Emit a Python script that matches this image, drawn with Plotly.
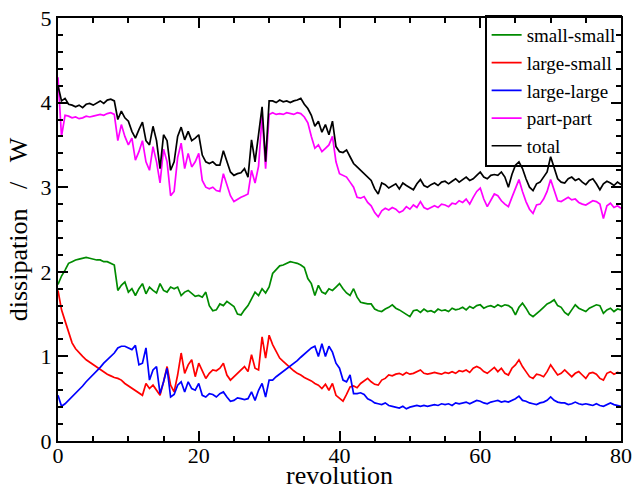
import numpy as np
import plotly.graph_objects as go

# revolution grid (step 0.5)
revolution = np.arange(0, 80.5, 0.5)

small_small = [
1.85,1.95,2.02,2.10,2.12,2.14,2.15,2.16,2.17,2.16,2.15,2.14,2.14,2.12,2.12,2.10,2.08,1.78,1.84,1.88,
1.76,1.80,1.72,1.80,1.86,1.74,1.82,1.78,1.75,1.86,1.78,1.76,1.82,1.80,1.82,1.72,1.76,1.78,1.74,1.71,
1.72,1.70,1.76,1.60,1.54,1.55,1.62,1.60,1.65,1.62,1.59,1.50,1.49,1.55,1.60,1.68,1.76,1.72,1.80,1.75,
1.82,1.98,2.02,2.07,2.08,2.10,2.12,2.11,2.10,2.08,2.05,1.92,1.86,1.72,1.84,1.76,1.74,1.80,1.78,1.82,
1.86,1.80,1.75,1.72,1.80,1.70,1.64,1.63,1.62,1.62,1.56,1.54,1.53,1.56,1.58,1.61,1.57,1.55,1.52,1.50,
1.47,1.54,1.55,1.52,1.56,1.53,1.54,1.52,1.56,1.54,1.55,1.53,1.57,1.55,1.56,1.58,1.55,1.59,1.57,1.60,
1.61,1.57,1.59,1.60,1.58,1.61,1.59,1.61,1.60,1.57,1.49,1.58,1.63,1.57,1.50,1.47,1.50,1.54,1.58,1.62,
1.64,1.67,1.60,1.58,1.52,1.49,1.55,1.61,1.57,1.55,1.53,1.57,1.59,1.61,1.60,1.51,1.55,1.57,1.53,1.56,
1.55]

large_small = [
1.78,1.55,1.42,1.28,1.16,1.09,1.04,1.00,0.96,0.93,0.90,0.87,0.84,0.81,0.79,0.77,0.75,0.74,0.72,0.68,
0.65,0.62,0.60,0.57,0.54,0.68,0.62,0.66,0.60,0.54,0.70,0.88,0.66,0.58,0.78,1.04,0.80,0.90,0.96,0.76,
0.92,0.82,0.74,0.80,0.84,0.83,0.86,0.92,0.78,0.72,0.76,0.80,0.84,0.88,0.82,1.02,0.86,0.84,1.23,0.98,
1.25,1.14,1.06,0.98,0.94,0.90,0.86,0.83,0.80,0.78,0.75,0.73,0.71,0.68,0.66,0.62,0.67,0.60,0.68,0.54,
0.50,0.47,0.55,0.64,0.65,0.63,0.68,0.71,0.74,0.70,0.67,0.66,0.72,0.74,0.78,0.77,0.79,0.80,0.78,0.81,
0.79,0.80,0.82,0.84,0.80,0.79,0.80,0.81,0.80,0.79,0.81,0.80,0.82,0.80,0.83,0.82,0.84,0.81,0.86,0.88,
0.86,0.82,0.80,0.84,0.87,0.82,0.86,0.80,0.78,0.86,0.90,0.96,0.88,0.82,0.76,0.74,0.79,0.78,0.76,0.82,
0.90,0.84,0.78,0.80,0.84,0.80,0.76,0.80,0.82,0.78,0.74,0.80,0.81,0.79,0.74,0.72,0.80,0.82,0.79,0.81,
0.80]

large_large = [
0.54,0.41,0.44,0.48,0.52,0.56,0.60,0.65,0.70,0.74,0.78,0.82,0.87,0.92,0.96,1.00,1.04,1.10,1.12,1.12,
1.10,1.08,1.13,0.90,0.92,1.10,0.72,0.84,0.88,0.56,0.70,0.86,0.52,0.55,0.66,0.70,0.58,0.70,0.62,0.60,
0.68,0.54,0.52,0.56,0.55,0.52,0.56,0.58,0.52,0.47,0.48,0.51,0.50,0.49,0.50,0.58,0.48,0.60,0.68,0.52,
0.72,0.72,0.76,0.79,0.82,0.85,0.88,0.91,0.95,0.99,1.03,1.07,1.10,1.12,1.00,1.15,1.00,1.12,1.05,0.92,
0.86,0.72,0.70,0.78,0.56,0.56,0.57,0.55,0.50,0.48,0.45,0.44,0.43,0.45,0.42,0.41,0.40,0.39,0.41,0.38,
0.40,0.41,0.42,0.41,0.42,0.41,0.42,0.43,0.42,0.44,0.43,0.44,0.42,0.45,0.44,0.45,0.46,0.44,0.46,0.48,
0.47,0.45,0.44,0.46,0.47,0.48,0.46,0.47,0.46,0.48,0.50,0.53,0.48,0.47,0.45,0.44,0.43,0.45,0.46,0.48,
0.52,0.48,0.46,0.45,0.45,0.43,0.44,0.46,0.44,0.43,0.44,0.43,0.42,0.44,0.42,0.41,0.43,0.45,0.43,0.42,
0.41]

part_part = [
4.30,3.60,3.85,3.84,3.82,3.83,3.81,3.82,3.84,3.83,3.84,3.85,3.86,3.85,3.87,3.88,3.86,3.55,3.74,3.60,
3.50,3.58,3.32,3.42,3.55,3.30,3.20,3.48,3.30,3.05,3.45,3.30,2.90,2.95,3.35,3.52,3.22,3.40,3.24,3.30,
3.40,3.08,3.00,2.98,3.00,2.96,2.95,3.16,3.02,2.90,2.83,2.86,2.88,2.90,2.92,3.20,3.05,3.25,3.85,3.22,
3.86,3.88,3.86,3.87,3.86,3.88,3.87,3.86,3.88,3.87,3.83,3.76,3.60,3.46,3.50,3.42,3.46,3.50,3.60,3.30,
3.16,3.14,3.12,3.06,3.00,2.88,2.87,2.89,2.82,2.78,2.70,2.65,2.72,2.75,2.73,2.76,2.74,2.70,2.72,2.77,
2.74,2.79,2.76,2.83,2.76,2.74,2.76,2.78,2.76,2.80,2.79,2.77,2.81,2.80,2.84,2.82,2.86,2.80,2.88,2.95,
2.99,2.86,2.77,2.85,2.92,2.90,2.84,2.80,2.77,2.88,2.98,3.09,2.95,2.83,2.74,2.69,2.79,2.80,2.86,2.95,
3.09,2.95,2.84,2.83,2.86,2.88,2.85,2.86,2.82,2.80,2.79,2.82,2.84,2.83,2.80,2.63,2.78,2.81,2.76,2.78,
2.75]

total = [
4.20,4.02,4.05,3.98,3.97,3.95,3.97,3.94,3.98,3.99,3.97,4.00,4.02,3.99,4.03,4.04,4.02,3.80,3.90,3.82,
3.78,3.66,3.58,3.68,3.77,3.55,3.50,3.72,3.55,3.22,3.62,3.55,3.20,3.30,3.60,3.71,3.56,3.66,3.55,3.58,
3.62,3.38,3.30,3.28,3.30,3.26,3.26,3.43,3.30,3.18,3.14,3.16,3.17,3.22,3.12,3.56,3.30,3.60,3.95,3.30,
4.02,4.02,4.00,4.03,4.01,4.02,4.00,4.02,4.03,4.05,3.98,3.93,3.85,3.72,3.78,3.65,3.74,3.62,3.78,3.48,
3.42,3.41,3.44,3.36,3.28,3.24,3.20,3.17,3.12,3.08,2.98,2.92,3.05,3.03,2.99,3.02,3.04,2.98,3.05,3.02,
2.99,2.97,3.04,3.09,3.02,3.00,3.03,3.05,3.02,3.06,3.07,3.04,3.07,3.10,3.06,3.09,3.12,3.08,3.10,3.14,
3.18,3.12,3.10,3.14,3.15,3.14,3.18,3.12,3.00,3.15,3.26,3.30,3.22,3.10,3.00,2.96,3.04,3.06,3.12,3.18,
3.36,3.22,3.10,3.06,3.05,3.10,3.12,3.08,3.10,3.06,3.03,3.08,3.10,3.04,2.97,3.04,3.07,3.05,3.02,3.06,
3.03]

series_names = ["small-small", "large-small", "large-large", "part-part", "total"]
series_colors = ["#008b00", "#ff0000", "#0000ff", "#ff00ff", "#000000"]
series_values = [small_small, large_small, large_large, part_part, total]

x_ticks = [0, 20, 40, 60, 80]
y_ticks = [0, 1, 2, 3, 4, 5]

FONT = "Liberation Serif, Times New Roman, Times, serif"
NB = "\u00a0"

fig = go.Figure()
for name, color, vals in zip(series_names, series_colors, series_values):
    fig.add_trace(go.Scatter(x=revolution, y=vals, mode="lines", name=name,
                             line=dict(color=color, width=1.7)))

axis_common = dict(
    showline=True, linecolor="black", linewidth=2, mirror="allticks",
    ticks="inside", ticklen=10, tickwidth=1.5, tickcolor="black",
    showgrid=False, zeroline=False, automargin=False,
    tickfont=dict(family=FONT, size=22, color="black"),
)

fig.update_xaxes(range=[0, 80], tickvals=x_ticks, ticktext=[str(v) for v in x_ticks],
                 minor=dict(dtick=5, ticklen=5, tickwidth=1.5, tickcolor="black", ticks="inside"),
                 ticklabelstandoff=-6,
                 title=dict(text="revolution", font=dict(family=FONT, size=26, color="black"), standoff=7),
                 **axis_common)
fig.update_yaxes(range=[0, 5], tickvals=y_ticks, ticktext=[str(v) for v in y_ticks],
                 minor=dict(dtick=0.2, ticklen=5, tickwidth=1.5, tickcolor="black", ticks="inside"),
                 title=dict(text="dissipation" + NB * 3 + "/" + NB * 3 + "W",
                            font=dict(family=FONT, size=26, color="black"), standoff=5),
                 **axis_common)

fig.update_layout(
    template="none",
    width=635, height=490,
    margin=dict(l=58, r=14, t=18, b=49),
    plot_bgcolor="white", paper_bgcolor="white",
    font=dict(family=FONT, color="black"),
    legend=dict(x=1.002, y=1.008, xanchor="right", yanchor="top",
                bordercolor="black", borderwidth=1.5, bgcolor="rgba(255,255,255,0)",
                font=dict(family=FONT, size=19, color="black"),
                tracegroupgap=0, itemwidth=30),
    showlegend=True,
)

fig.write_html("out.html", config={"displayModeBar": False},
               post_script="document.body.style.margin='0';document.body.style.padding='0';")
